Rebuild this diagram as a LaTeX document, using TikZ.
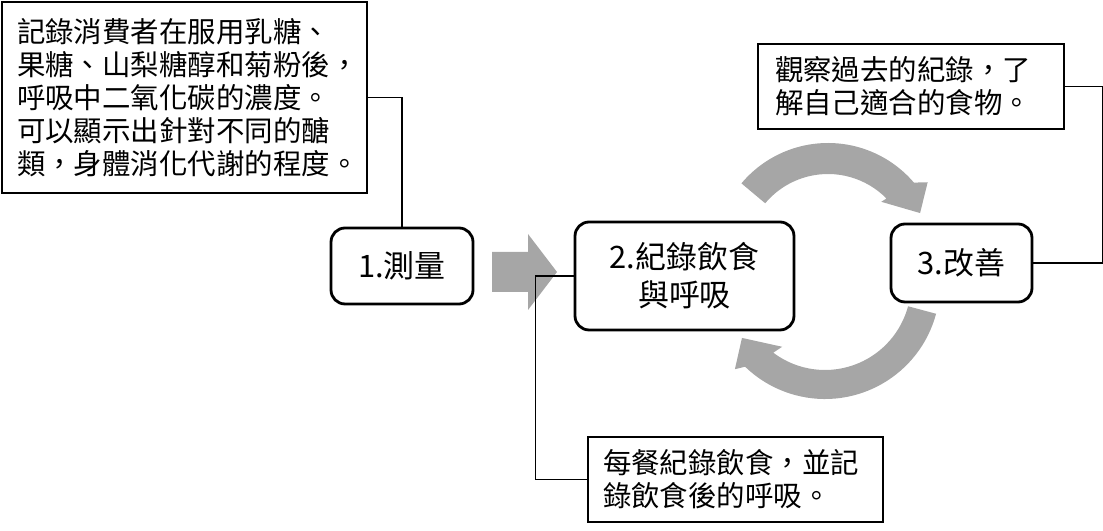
\documentclass[tikz,border=0pt]{standalone}
\usepackage{fontspec}
\newfontfamily\cjk{Noto Sans CJK TC}
\definecolor{arrowgray}{HTML}{A6A6A6}
\begin{document}
\begin{tikzpicture}[x=0.02cm, y=0.02cm,
  stepbox/.style={draw, line width=1.6pt, rounded corners=0.28cm, align=center, inner sep=0pt, font=\cjk\fontsize{17.6}{21.8}\selectfont},
  notebox/.style={draw, line width=1.1pt, align=left, inner xsep=0.3cm, inner ysep=0pt, font=\cjk\fontsize{16.2}{18.8}\selectfont},
  link/.style={line width=1pt},
  loopfill/.style={fill=arrowgray}]
  \useasboundingbox (0,0) rectangle (1103,531);

  % steps
  \node[stepbox, minimum width=2.84cm, minimum height=1.52cm] (meas) at (402,265) {1.測量};
  \node[stepbox, minimum width=4.38cm, minimum height=2.16cm] (log) at (684.5,255) {2.紀錄飲食\\與呼吸};
  \node[stepbox, minimum width=2.82cm, minimum height=1.56cm] (improve) at (961.5,268) {3.改善};

  % notes
  \node[notebox, text width=6.7cm, minimum height=3.82cm] (measnote) at (184.5,433.5)
    {記錄消費者在服用乳糖、\\果糖、山梨糖醇和菊粉後，\\呼吸中二氧化碳的濃度。\\可以顯示出針對不同的醣\\類，身體消化代謝的程度。};
  \node[notebox, text width=5.3cm, minimum height=1.7cm] (lognote) at (735.5,51.5)
    {每餐紀錄飲食，並記\\錄飲食後的呼吸。};
  \node[notebox, text width=5.44cm, inner xsep=0.34cm, minimum height=1.7cm] (improvenote) at (911,444.5)
    {觀察過去的紀錄，了\\解自己適合的食物。};

  % gray arrows
  \fill[loopfill] (492,239) -- (528,239) -- (528,221) -- (557,259) -- (528,297) -- (528,279) -- (492,279) -- cycle;
  \fill[loopfill, shift={(828,275)}] (140:113) arc[start angle=140, end angle=40.5, radius=113]
    -- (36.5:124) -- (25:101.6) -- (45.5:76) -- (44.5:82) arc[start angle=44.5, end angle=140, radius=82] -- cycle;
  \fill[loopfill, shift={(825,247)}] (-15:115) arc[start angle=-15, end angle=-134, radius=115]
    -- (-136.6:124) -- (-147:99) -- (-124.3:76) -- (-127:86) arc[start angle=-127, end angle=-15, radius=86] -- cycle;

  % connectors
  \draw[link] (measnote.east) -| (meas.north);
  \draw[link] (log.west) -- ++(-38,0) |- (lognote.west);
  \draw[link] (improve.east) -- ++(69,0) |- (improvenote.east);
\end{tikzpicture}
\end{document}
